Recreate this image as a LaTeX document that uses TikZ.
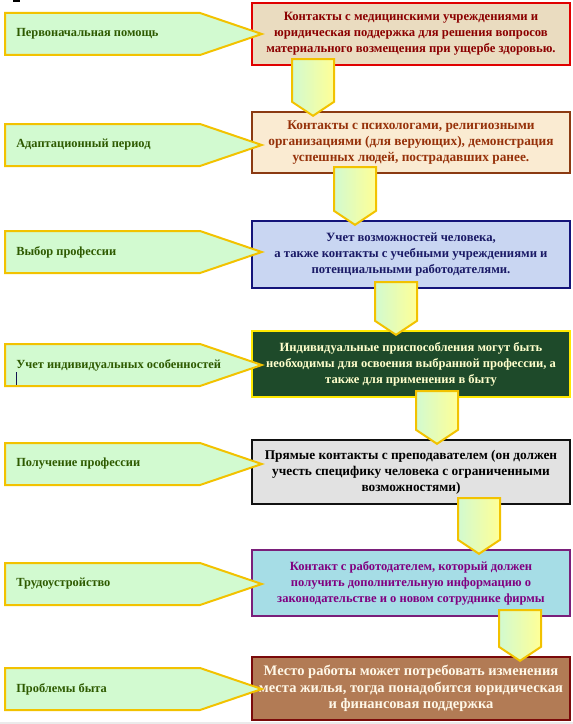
\documentclass[tikz,border=0pt]{standalone}
\usepackage{fontspec}
\setmainfont{Liberation Serif}
\usetikzlibrary{calc}

\definecolor{tagGold}{HTML}{F2C200}
\definecolor{tagMint}{HTML}{D2FAD0}
\definecolor{tagYellow}{HTML}{FFFF96}
\definecolor{tagGreen}{HTML}{2E5A00}
\definecolor{cursorNavy}{HTML}{141450}
% box border / fill / text
\definecolor{aidLine}{HTML}{E00000}   \definecolor{aidFill}{HTML}{EADCC0}   \definecolor{aidText}{HTML}{8B0000}
\definecolor{adaptLine}{HTML}{8B3A12} \definecolor{adaptFill}{HTML}{FAEBD2} \definecolor{adaptText}{HTML}{96320A}
\definecolor{choiceLine}{HTML}{14147A}\definecolor{choiceFill}{HTML}{C9D6F2}\definecolor{choiceText}{HTML}{1A1A66}
\definecolor{needLine}{HTML}{FFE800}  \definecolor{needFill}{HTML}{1E4A2A}  \definecolor{needText}{HTML}{FFFFCC}
\definecolor{studyLine}{HTML}{111111} \definecolor{studyFill}{HTML}{E2E2E2}
\definecolor{jobLine}{HTML}{7A1F7A}   \definecolor{jobFill}{HTML}{A6DDE6}   \definecolor{jobText}{HTML}{800080}
\definecolor{homeLine}{HTML}{7A0A0A}  \definecolor{homeFill}{HTML}{B27B55}  \definecolor{homeText}{HTML}{FFF8E8}

\begin{document}
\begin{tikzpicture}[
  x=0.75pt, y=0.75pt,
  box/.style={draw, line width=1.8pt, inner sep=0pt, minimum width=238.5pt,
    align=center, font=\bfseries\fontsize{9.5}{12}\selectfont},
  tagshape/.style={draw=tagGold, line width=1.5pt,
    top color=tagMint, middle color=tagYellow, bottom color=tagMint},
  tagtext/.style={anchor=west, inner sep=0pt, text=tagGreen,
    font=\bfseries\fontsize{9.3}{12}\selectfont},
  steparrow/.style={draw=tagGold, line width=1.5pt,
    left color=tagMint, right color=tagYellow}
]

\useasboundingbox (0,0) rectangle (573,-724);
\fill[black!8] (0,-722) rectangle (573,-724);
\fill[black] (13,0) rectangle (20,-2);

% --- Label helper: name, y (down from top), box it points at, text ---
\newcommand{\StageTag}[4]{%
  % Pentagon
  \draw[tagshape] (5,21-#2) -- (200,21-#2) -- ($(#3.west |- 0,-#2)+(11,0)$)
    -- (200,-21-#2) -- (5,-21-#2) -- cycle;
  % Label text
  \node[tagtext] (#1) at (16,-#2) {#4};
}

% --- Block arrow helper: from box, to box, x ---
\newcommand{\StepArrow}[3]{%
  \draw[steparrow] ($(#1.south -| #3,0)+(-21,7)$) -- ++(42,0)
    -- ($(#2.north -| #3,0)+(21,9)$) -- ($(#2.north -| #3,0)+(0,-5)$)
    -- ($(#2.north -| #3,0)+(-21,9)$) -- cycle;
}

% --- Boxes ---
\node[box, draw=aidLine, fill=aidFill, text=aidText, minimum height=46.5pt] (b1) at (411,-34)
  {Контакты с медицинскими учреждениями и\\юридическая поддержка для решения вопросов\\материального возмещения при ущербе здоровью.};
\node[box, draw=adaptLine, fill=adaptFill, text=adaptText, minimum height=45.75pt,
  font=\bfseries\fontsize{10}{12}\selectfont] (b2) at (411,-142.5)
  {Контакты с психологами, религиозными\\организациями (для верующих), демонстрация\\успешных людей, пострадавших ранее.};
\node[box, draw=choiceLine, fill=choiceFill, text=choiceText, minimum height=50.25pt] (b3) at (411,-254.5)
  {Учет возможностей человека,\\а также контакты с учебными учреждениями и\\потенциальными работодателями.};
\node[box, draw=needLine, fill=needFill, text=needText, minimum height=49.5pt,
  font=\bfseries\fontsize{9.4}{12}\selectfont] (b4) at (411,-364)
  {Индивидуальные приспособления могут быть\\необходимы для освоения выбранной профессии, а\\также для применения в быту};
\node[box, draw=studyLine, fill=studyFill, text=black, minimum height=48pt,
  font=\bfseries\fontsize{10}{12}\selectfont] (b5) at (411,-472)
  {Прямые контакты с преподавателем (он должен\\учесть специфику человека с ограниченными\\возможностями)};
\node[box, draw=jobLine, fill=jobFill, text=jobText, minimum height=49.5pt,
  font=\bfseries\fontsize{9.4}{12}\selectfont] (b6) at (411,-583)
  {Контакт с работодателем, который должен\\получить дополнительную информацию о\\законодательстве и о новом сотруднике фирмы};
\node[box, draw=homeLine, fill=homeFill, text=homeText, minimum height=47.25pt,
  font=\bfseries\fontsize{10.9}{12.5}\selectfont] (b7) at (411,-688.5)
  {Место работы может потребовать изменения\\места жилья, тогда понадобится юридическая\\и финансовая поддержка};

% --- Stage labels ---
\StageTag{t1}{34}{b1}{Первоначальная помощь}
\StageTag{t2}{145}{b2}{Адаптационный период}
\StageTag{t3}{252}{b3}{Выбор профессии}
\StageTag{t4}{365}{b4}{Учет индивидуальных особенностей}
\StageTag{t5}{464}{b5}{Получение профессии}
\StageTag{t6}{584}{b6}{Трудоустройство}
\StageTag{t7}{689}{b7}{Проблемы быта}
\draw[line width=1.2pt, cursorNavy] (16.5,-372) -- (16.5,-385);

% --- Block arrows between boxes ---
\StepArrow{b1}{b2}{313}
\StepArrow{b2}{b3}{355}
\StepArrow{b3}{b4}{396}
\StepArrow{b4}{b5}{437}
\StepArrow{b5}{b6}{479}
\StepArrow{b6}{b7}{520}

\end{tikzpicture}
\end{document}
